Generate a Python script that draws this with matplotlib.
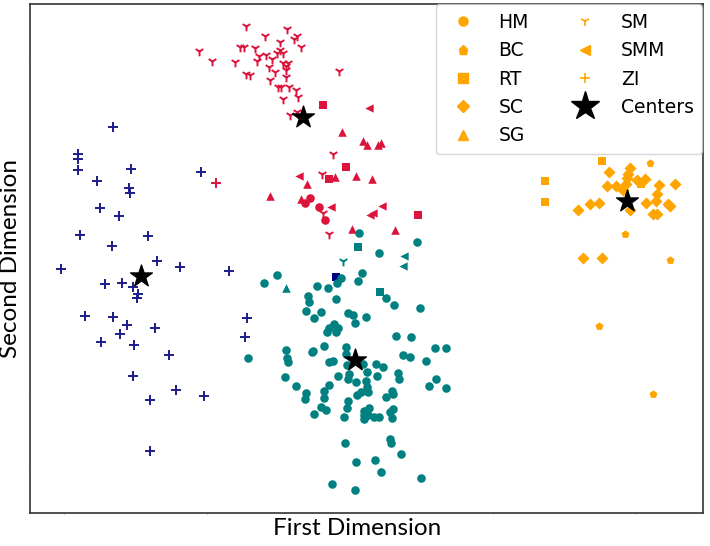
import matplotlib
matplotlib.use("Agg")
import matplotlib.pyplot as plt
from matplotlib.lines import Line2D

# ---- data (arbitrary projection units) ----
zi_navy = [(83,386),(48,359),(48,354),(48,343),(101,344),(171,341),(67,332),(99,325),(100,320),
           (70,305),(89,297),(50,278),(118,277),(82,267),(127,252),(150,246),(31,244),(199,242),
           (75,229),(92,230),(103,226),(108,219),(107,215),(55,197),(83,196),(97,188),(125,185),
           (90,179),(71,171),(104,168),(217,195),(215,176),(139,158),(103,137),(146,123),(120,113),
           (174,117),(120,62)]
rt_navy = [(306,236)]

zi_crimson = [(186,330)]
sm_crimson = [(216,487),(257,484),(235,477),(267,477),(264,474),(250,471),(210,466),(214,466),
              (271,466),(225,465),(169,462),(250,463),(247,460),(253,460),(229,457),(236,458),
              (242,454),(227,452),(182,452),(205,451),(253,450),(258,450),(256,447),(239,446),
              (256,443),(245,441),(309,442),(216,439),(220,438),(256,436),(240,433),(248,426),
              (251,426),(259,426),(266,423),(268,416),(253,414),(267,401),(260,398),(303,359),
              (292,339),(293,300),(299,279)]
rt_crimson = [(293,408),(316,346),(299,334),(388,298)]
smm_crimson = [(339,405),(269,337),(301,306),(352,307),(340,298),(343,300)]
sg_crimson = [(312,381),(333,372),(337,368),(348,368),(351,370),(305,336),(326,337),(342,334),
              (277,329),(240,317),(271,314),(322,284),(365,283)]
hm_crimson = [(280,315),(275,310),(289,306),(295,293)]

hm_teal = [(329,280),(387,271),(349,260),(247,238),(234,230),(311,235),(332,240),(328,232),
           (307,230),(287,227),(298,225),(356,215),(364,208),(390,205),(278,217),(279,211),
           (306,214),(276,202),(291,201),(284,195),(318,200),(323,198),(336,196),(325,190),
           (304,189),(308,185),(299,185),(297,181),(306,181),(366,177),(381,176),(218,155),
           (256,163),(257,155),(258,151),(282,161),(283,162),(294,167),(316,166),(316,159),
           (299,151),(303,152),(317,148),(333,149),(346,149),(353,146),(373,158),(380,156),
           (396,152),(405,165),(416,165),(255,136),(266,127),(276,120),(275,114),(299,128),
           (308,137),(319,139),(318,134),(337,141),(326,131),(336,132),(337,126),(347,137),
           (368,140),(369,134),(399,127),(406,134),(416,125),(294,122),(294,115),(331,121),
           (327,118),(338,121),(362,122),(363,119),(356,116),(318,112),(317,105),(291,106),
           (296,103),(284,99),(314,96),(334,102),(339,105),(334,98),(338,98),(334,94),(344,96),
           (349,96),(363,104),(360,101),(362,95),(315,70),(360,74),(361,70),(371,59),(326,51),
           (345,53),(351,41),(391,35),(302,29),(325,23)]
rt_teal = [(328,266),(350,221)]
smm_teal = [(374,257),(373,247)]
sm_teal = [(313,252)]
sg_teal = [(256,225)]

rt_orange = [(572,352),(515,332),(515,311),(611,329)]
bc_orange = [(620,350),(595,279),(640,253),(569,187),(623,119)]
sc_orange = [(579,341),(600,345),(598,339),(597,335),(607,333),(615,334),(577,327),(586,327),
             (593,323),(596,329),(629,328),(645,329),(627,319),(626,312),(616,310),(638,309),
             (640,307),(560,309),(569,310),(548,303),(600,303),(623,299),(627,299),(553,255),
             (572,255)]

centers = [(111,237),(273,396),(325,153),(597,312)]

categories = ["HM", "BC", "RT", "SC", "SG", "SM", "SMM", "ZI"]
markers = {"HM": "o", "BC": "p", "RT": "s", "SC": "D", "SG": "^", "SM": "1", "SMM": "<", "ZI": "+"}

NAVY, CRIMSON, TEAL, ORANGE = "#1c1c8c", "#dc143c", "#008080", "#ffa500"

groups = [
    (zi_navy, "ZI", NAVY), (rt_navy, "RT", "#000080"),
    (zi_crimson, "ZI", CRIMSON), (sm_crimson, "SM", CRIMSON), (rt_crimson, "RT", CRIMSON),
    (smm_crimson, "SMM", CRIMSON), (sg_crimson, "SG", CRIMSON), (hm_crimson, "HM", CRIMSON),
    (hm_teal, "HM", TEAL), (rt_teal, "RT", TEAL), (smm_teal, "SMM", TEAL),
    (sm_teal, "SM", TEAL), (sg_teal, "SG", TEAL),
    (rt_orange, "RT", ORANGE), (bc_orange, "BC", ORANGE), (sc_orange, "SC", ORANGE),
]

fig = plt.figure(figsize=(7.1, 5.46), dpi=100)
ax = fig.add_axes([30/710, 1-513/546, 673/710, 509.5/546])

sizes = {"HM": 38, "BC": 36, "RT": 34, "SC": 38, "SG": 38, "SM": 48, "SMM": 36, "ZI": 48}
for pts, cat, col in groups:
    xs = [p[0] for p in pts]
    ys = [p[1] for p in pts]
    lw = 1.4 if cat in ("ZI", "SM") else 0
    ax.scatter(xs, ys, marker=markers[cat], s=sizes[cat], color=col, linewidths=lw)

ax.scatter([c[0] for c in centers], [c[1] for c in centers], marker="*", s=270,
           color="black", zorder=5)

ax.set_xlim(0, 673)
ax.set_ylim(0, 509.5)
ax.set_xticks([34, 177, 463, 606])
ax.set_yticks([451, 115, 48])
ax.set_xticklabels([])
ax.set_yticklabels([])
ax.tick_params(length=1.2, width=0.5, color="#cccccc", pad=1)
for sp in ax.spines.values():
    sp.set_color("#333333")
    sp.set_linewidth(1.2)

ax.set_xlabel("First Dimension", fontsize=17.5, family="Lato")
ax.xaxis.label.set_verticalalignment("top")
ax.xaxis.set_label_coords((357.5 - 30) / 673, -0.01)
ax.set_ylabel("Second Dimension", fontsize=17.5, family="Lato", labelpad=4)

handles = []
for cat in categories:
    lw = 1.2 if cat in ("ZI", "SM") else 1.0
    handles.append(Line2D([], [], linestyle="none", marker=markers[cat], color=ORANGE,
                          markersize=6.5, markeredgewidth=lw, label=cat))
handles.append(Line2D([], [], linestyle="none", marker="*", color="black",
                      markersize=21, label="Centers"))
ax.legend(handles=handles, loc="upper right", ncol=2, fontsize=13.5, frameon=True,
          labelspacing=0.5, handletextpad=0.9, columnspacing=2.0, borderpad=0.45,
          borderaxespad=0.05, bbox_to_anchor=(1.0, 1.0))

fig.savefig("out.png", dpi=100)
